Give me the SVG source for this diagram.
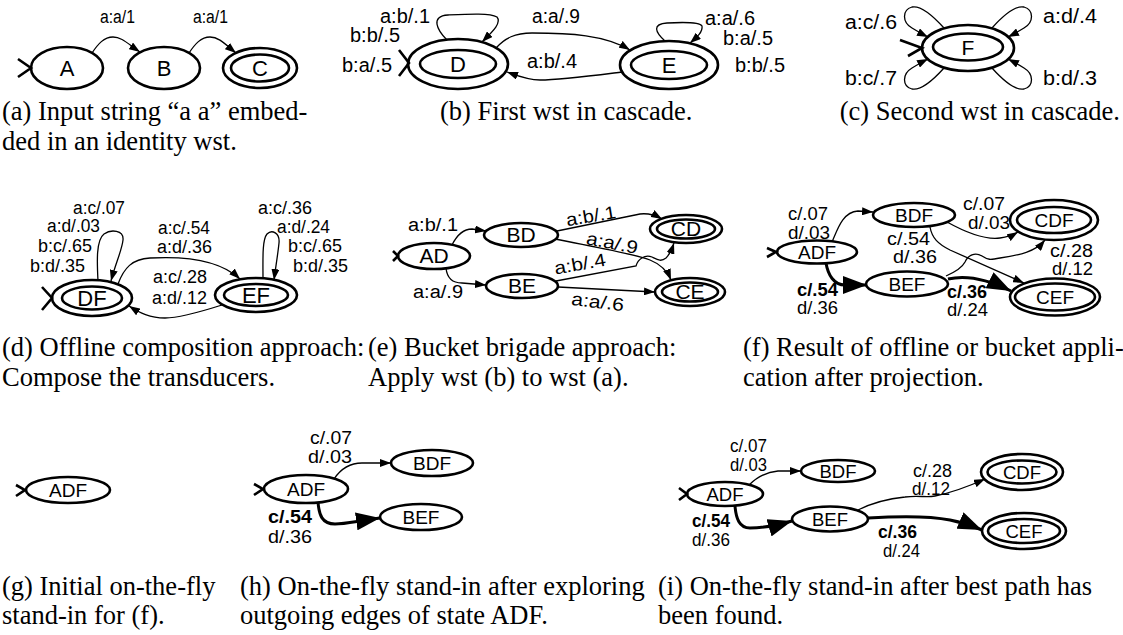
<svg xmlns="http://www.w3.org/2000/svg" width="1123" height="635" viewBox="0 0 1123 635">
<defs>
<style>
.n{fill:none;stroke:#000;stroke-width:2.6}
.s{fill:none;stroke:#000;stroke-width:2.6;stroke-linejoin:miter}
.c{fill:none;stroke:#000;stroke-width:1.3}
.k{fill:none;stroke:#000;stroke-width:3}
text{font-family:"Liberation Sans",Arial,Helvetica,sans-serif;fill:#000}
.nl{text-anchor:middle}
.cap{font-family:"Liberation Serif","Times New Roman",serif;font-size:26.5px}
.b{font-weight:bold}
</style>
<marker id="ah" viewBox="0 0 11 8" markerWidth="11" markerHeight="8" refX="11" refY="4" orient="auto" markerUnits="userSpaceOnUse"><path d="M0,0L11,4L0,8z"/></marker>
<marker id="ahb" viewBox="0 0 24 18" markerWidth="24" markerHeight="18" refX="24" refY="9" orient="auto" markerUnits="userSpaceOnUse"><path d="M0,0L24,9L0,18z"/></marker>
</defs>
<rect width="1123" height="635" fill="#fff"/>

<!-- (a) -->
<g id="a-A"><ellipse class="n" cx="67" cy="68" rx="36" ry="21"/><text class="nl" x="67" y="76" font-size="22">A</text></g>
<g id="a-B"><ellipse class="n" cx="164" cy="68" rx="36" ry="21"/><text class="nl" x="164" y="76" font-size="22">B</text></g>
<g id="a-C"><ellipse class="n" cx="260" cy="68" rx="37" ry="20"/><ellipse class="n" cx="260" cy="68" rx="29" ry="13.5"/><text class="nl" x="260" y="76" font-size="22">C</text></g>
<g id="a-connectors">
<polyline class="s" points="18,59 31,68 18,77"/>
<path class="c" d="M92,53 C98,44 104,37 113,37 C122,37 128,44 140,52" marker-end="url(#ah)"/>
<path class="c" d="M189,53 C195,44 201,37 210,37 C219,37 225,44 236,53" marker-end="url(#ah)"/>
<g font-size="18">
<text x="100" y="23" textLength="35" lengthAdjust="spacingAndGlyphs">a:a/1</text>
<text x="193" y="23" textLength="35" lengthAdjust="spacingAndGlyphs">a:a/1</text>
</g>
</g>

<!-- (b) -->
<g id="b-D"><ellipse class="n" cx="458" cy="64" rx="50" ry="25"/><ellipse class="n" cx="458" cy="64" rx="38" ry="14"/><text class="nl" x="458" y="72" font-size="22">D</text></g>
<g id="b-E"><ellipse class="n" cx="669" cy="65" rx="49" ry="24"/><ellipse class="n" cx="669" cy="65" rx="38" ry="14"/><text class="nl" x="669" y="73" font-size="22">E</text></g>
<g id="b-connectors">
<polyline class="s" points="399,50 409,63 399,76"/>
<path class="c" d="M447,40 C437,30 430,16 448,15 C470,14 490,13 497,17 C502,23 492,32 482,42" marker-end="url(#ah)"/>
<path class="c" d="M496,48 C505,38 515,33 532,33 C570,33 605,35 630,50" marker-end="url(#ah)"/>
<path class="c" d="M622,72 C590,76 560,80 540,80 C528,80 518,76 507,72" marker-end="url(#ah)"/>
<path class="c" d="M665,41 C655,32 652,24 667,23 C685,22 700,22 702,26 C703,32 697,37 690,43" marker-end="url(#ah)"/>
<g font-size="20">
<text x="380" y="23" textLength="50" lengthAdjust="spacingAndGlyphs">a:b/.1</text>
<text x="350" y="42" textLength="50" lengthAdjust="spacingAndGlyphs">b:b/.5</text>
<text x="342" y="72" textLength="50" lengthAdjust="spacingAndGlyphs">b:a/.5</text>
<text x="532" y="23" textLength="48" lengthAdjust="spacingAndGlyphs">a:a/.9</text>
<text x="527" y="68" textLength="50" lengthAdjust="spacingAndGlyphs">a:b/.4</text>
<text x="705" y="25" textLength="50" lengthAdjust="spacingAndGlyphs">a:a/.6</text>
<text x="723" y="45" textLength="50" lengthAdjust="spacingAndGlyphs">b:a/.5</text>
<text x="735" y="72" textLength="50" lengthAdjust="spacingAndGlyphs">b:b/.5</text>
</g>
</g>

<!-- (c) -->
<g id="c-F"><ellipse class="n" cx="968" cy="48" rx="46" ry="23"/><ellipse class="n" cx="968" cy="47" rx="35" ry="13.5"/><text class="nl" x="968" y="55" font-size="21">F</text></g>
<g id="c-connectors">
<polyline class="s" points="900,40 922,48 908,56"/>
<path class="c" d="M944,28 C935,18 922,5 912,7 C902,10 902,22 912,28 C917,31 922,34 928,37" marker-end="url(#ah)"/>
<path class="c" d="M992,28 C1001,18 1014,5 1024,7 C1034,10 1034,22 1024,28 C1019,31 1014,34 1008,37" marker-end="url(#ah)"/>
<path class="c" d="M944,68 C935,78 922,91 912,89 C902,86 902,74 912,68 C917,65 922,62 928,59" marker-end="url(#ah)"/>
<path class="c" d="M992,68 C1001,78 1014,91 1024,89 C1034,86 1034,74 1024,68 C1019,65 1014,62 1008,59" marker-end="url(#ah)"/>
<g font-size="20">
<text x="845" y="29" textLength="52" lengthAdjust="spacingAndGlyphs">a:c/.6</text>
<text x="1043" y="23" textLength="54" lengthAdjust="spacingAndGlyphs">a:d/.4</text>
<text x="845" y="85" textLength="52" lengthAdjust="spacingAndGlyphs">b:c/.7</text>
<text x="1043" y="85" textLength="54" lengthAdjust="spacingAndGlyphs">b:d/.3</text>
</g>
</g>

<!-- (d) -->
<g id="d-DF"><ellipse class="n" cx="92" cy="298" rx="40" ry="18"/><ellipse class="n" cx="92" cy="298" rx="30" ry="11.5"/><text class="nl" x="92" y="306" font-size="22">DF</text></g>
<g id="d-EF"><ellipse class="n" cx="256" cy="295" rx="41" ry="17"/><ellipse class="n" cx="256" cy="295" rx="32" ry="11"/><text class="nl" x="256" y="303" font-size="22">EF</text></g>
<g id="d-connectors">
<polyline class="s" points="42,287 52,298 42,310"/>
<path class="c" d="M98,281 C97,262 96,240 104,234 C111,229 124,230 123,240 C122,250 116,262 111,281" marker-end="url(#ah)"/>
<path class="c" d="M263,279 C263,260 262,240 267,234 C272,229 280,233 279,243 C278,253 276,265 274,280" marker-end="url(#ah)"/>
<path class="c" d="M118,284 C124,268 132,259 150,258 C185,256 220,260 240,279" marker-end="url(#ah)"/>
<path class="c" d="M222,305 C200,312 180,318 165,318 C150,318 140,313 129,306" marker-end="url(#ah)"/>
<g font-size="18">
<text x="73" y="214" textLength="52" lengthAdjust="spacingAndGlyphs">a:c/.07</text>
<text x="47" y="232" textLength="53" lengthAdjust="spacingAndGlyphs">a:d/.03</text>
<text x="38" y="252" textLength="54" lengthAdjust="spacingAndGlyphs">b:c/.65</text>
<text x="30" y="272" textLength="55" lengthAdjust="spacingAndGlyphs">b:d/.35</text>
<text x="158" y="234" textLength="52" lengthAdjust="spacingAndGlyphs">a:c/.54</text>
<text x="157" y="253" textLength="55" lengthAdjust="spacingAndGlyphs">a:d/.36</text>
<text x="153" y="283" textLength="54" lengthAdjust="spacingAndGlyphs">a:c/.28</text>
<text x="152" y="304" textLength="55" lengthAdjust="spacingAndGlyphs">a:d/.12</text>
<text x="258" y="214" textLength="54" lengthAdjust="spacingAndGlyphs">a:c/.36</text>
<text x="277" y="233" textLength="53" lengthAdjust="spacingAndGlyphs">a:d/.24</text>
<text x="288" y="252" textLength="54" lengthAdjust="spacingAndGlyphs">b:c/.65</text>
<text x="293" y="272" textLength="55" lengthAdjust="spacingAndGlyphs">b:d/.35</text>
</g>
</g>

<!-- (e) -->
<g id="e-AD"><ellipse class="n" cx="434" cy="256" rx="36" ry="13"/><text class="nl" x="434" y="263" font-size="21">AD</text></g>
<g id="e-BD"><ellipse class="n" cx="521" cy="235" rx="37" ry="12"/><text class="nl" x="521" y="242" font-size="21">BD</text></g>
<g id="e-BE"><ellipse class="n" cx="522" cy="286" rx="36" ry="12"/><text class="nl" x="522" y="293" font-size="21">BE</text></g>
<g id="e-CD"><ellipse class="n" cx="686" cy="229" rx="36" ry="14"/><ellipse class="n" cx="686" cy="229" rx="29" ry="9.5"/><text class="nl" x="686" y="236" font-size="21">CD</text></g>
<g id="e-CE"><ellipse class="n" cx="690" cy="292" rx="35" ry="14"/><ellipse class="n" cx="690" cy="292" rx="28" ry="9.5"/><text class="nl" x="690" y="299" font-size="21">CE</text></g>
<g id="e-connectors">
<polyline class="s" points="393,251 398,256 393,261"/>
<path class="c" d="M452,245 C457,235 463,229 472,229 L486,231" marker-end="url(#ah)"/>
<path class="c" d="M446,268 C447,278 452,283 462,283 L486,285" marker-end="url(#ah)"/>
<path class="c" d="M557,231 L640,214 C648,213 655,215 662,219" marker-end="url(#ah)"/>
<path class="c" d="M555,239 C600,248 635,254 650,260 C660,264 667,270 671,280" marker-end="url(#ah)"/>
<path class="c" d="M556,281 L636,266 C638,259 645,254 652,257 C658,260 661,262 666,258 C670,254 672,249 674,243" marker-end="url(#ah)"/>
<path class="c" d="M558,287 L655,292" marker-end="url(#ah)"/>
<g font-size="18">
<text x="408" y="231" textLength="50" lengthAdjust="spacingAndGlyphs">a:b/.1</text>
<text x="413" y="298" textLength="50" lengthAdjust="spacingAndGlyphs">a:a/.9</text>
<text transform="translate(592,222) rotate(-9.5)" text-anchor="middle" textLength="50" lengthAdjust="spacingAndGlyphs">a:b/.1</text>
<text transform="translate(611,249) rotate(11)" text-anchor="middle" textLength="52" lengthAdjust="spacingAndGlyphs">a:a/.9</text>
<text transform="translate(581,270) rotate(-10)" text-anchor="middle" textLength="52" lengthAdjust="spacingAndGlyphs">a:b/.4</text>
<text transform="translate(597,308) rotate(7)" text-anchor="middle" textLength="53" lengthAdjust="spacingAndGlyphs">a:a/.6</text>
</g>
</g>

<!-- (f) -->
<g id="f-ADF"><ellipse class="n" cx="817" cy="252" rx="40" ry="11.5"/><text class="nl" x="817" y="259" font-size="19">ADF</text></g>
<g id="f-BDF"><ellipse class="n" cx="914" cy="215" rx="41" ry="12"/><text class="nl" x="914" y="222" font-size="19">BDF</text></g>
<g id="f-BEF"><ellipse class="n" cx="907" cy="284" rx="41" ry="12.5"/><text class="nl" x="907" y="291" font-size="19">BEF</text></g>
<g id="f-CDF"><ellipse class="n" cx="1054" cy="220" rx="44" ry="20"/><ellipse class="n" cx="1054" cy="220" rx="37" ry="13"/><text class="nl" x="1054" y="227" font-size="19">CDF</text></g>
<g id="f-CEF"><ellipse class="n" cx="1055" cy="297" rx="45" ry="18.5"/><ellipse class="n" cx="1055" cy="297" rx="40" ry="13.5"/><text class="nl" x="1055" y="304" font-size="19">CEF</text></g>
<g id="f-connectors">
<polyline class="s" points="767,248 776,252 767,257"/>
<path class="c" d="M832,242 C838,228 843,212 858,211 L873,212" marker-end="url(#ah)"/>
<path class="k" d="M826,263 C828,275 834,285 845,285 L867,285" marker-end="url(#ahb)"/>
<path class="c" d="M947,222 C965,232 985,240 1000,238 C1008,237 1013,235 1018,232" marker-end="url(#ah)"/>
<path class="c" d="M930,227 C932,238 938,244 950,250 L1024,283" marker-end="url(#ah)"/>
<path class="c" d="M946,276 C955,272 962,268 965,262 C968,255 975,252 982,256 C988,260 990,260 1000,258 C1020,255 1035,252 1045,240" marker-end="url(#ah)"/>
<path class="k" d="M948,279 C965,275 985,278 1011,291" marker-end="url(#ahb)"/>
<g font-size="17.5">
<text x="788" y="220" textLength="40" lengthAdjust="spacingAndGlyphs">c/.07</text>
<text x="788" y="239" textLength="42" lengthAdjust="spacingAndGlyphs">d/.03</text>
<text x="963" y="210" textLength="42" lengthAdjust="spacingAndGlyphs">c/.07</text>
<text x="968" y="229" textLength="42" lengthAdjust="spacingAndGlyphs">d/.03</text>
<text x="887" y="245" textLength="43" lengthAdjust="spacingAndGlyphs">c/.54</text>
<text x="893" y="263" textLength="44" lengthAdjust="spacingAndGlyphs">d/.36</text>
<text x="1050" y="257" textLength="43" lengthAdjust="spacingAndGlyphs">c/.28</text>
<text x="1052" y="275" textLength="41" lengthAdjust="spacingAndGlyphs">d/.12</text>
<text class="b" x="797" y="296" textLength="41" lengthAdjust="spacingAndGlyphs">c/.54</text>
<text x="797" y="314" textLength="41" lengthAdjust="spacingAndGlyphs">d/.36</text>
<text class="b" x="947" y="298" textLength="40" lengthAdjust="spacingAndGlyphs">c/.36</text>
<text x="947" y="316" textLength="41" lengthAdjust="spacingAndGlyphs">d/.24</text>
</g>
</g>

<!-- (g) -->
<g id="g-ADF"><ellipse class="n" cx="68" cy="490" rx="42" ry="13"/><text class="nl" x="68" y="497" font-size="19">ADF</text></g>
<g id="g-connectors"><polyline class="s" points="16,485 25,490 16,496"/></g>

<!-- (h) -->
<g id="h-ADF"><ellipse class="n" cx="306" cy="489" rx="42" ry="14"/><text class="nl" x="306" y="496" font-size="19">ADF</text></g>
<g id="h-BDF"><ellipse class="n" cx="432" cy="463" rx="41" ry="13"/><text class="nl" x="432" y="470" font-size="19">BDF</text></g>
<g id="h-BEF"><ellipse class="n" cx="421" cy="517" rx="41" ry="13"/><text class="nl" x="421" y="524" font-size="19">BEF</text></g>
<g id="h-connectors">
<polyline class="s" points="254,484 263,489 254,495"/>
<path class="c" d="M334,479 C340,470 348,463 362,463 L391,463" marker-end="url(#ah)"/>
<path class="k" d="M318,502 C319,515 322,524 335,524 C345,524 352,522 380,518" marker-end="url(#ahb)"/>
<g font-size="19">
<text x="310" y="444" textLength="42" lengthAdjust="spacingAndGlyphs">c/.07</text>
<text x="308" y="463" textLength="44" lengthAdjust="spacingAndGlyphs">d/.03</text>
<text class="b" x="268" y="523" textLength="44" lengthAdjust="spacingAndGlyphs">c/.54</text>
<text x="268" y="543" textLength="44" lengthAdjust="spacingAndGlyphs">d/.36</text>
</g>
</g>

<!-- (i) -->
<g id="i-ADF"><ellipse class="n" cx="725" cy="494" rx="38" ry="12"/><text class="nl" x="725" y="501" font-size="18.5">ADF</text></g>
<g id="i-BDF"><ellipse class="n" cx="838" cy="471" rx="37" ry="11"/><text class="nl" x="838" y="478" font-size="18.5">BDF</text></g>
<g id="i-BEF"><ellipse class="n" cx="830" cy="519" rx="38" ry="12.5"/><text class="nl" x="830" y="526" font-size="18.5">BEF</text></g>
<g id="i-CDF"><ellipse class="n" cx="1022" cy="472" rx="41" ry="18"/><ellipse class="n" cx="1022" cy="472" rx="34.5" ry="11.5"/><text class="nl" x="1022" y="479" font-size="18.5">CDF</text></g>
<g id="i-CEF"><ellipse class="n" cx="1024" cy="531" rx="42" ry="18"/><ellipse class="n" cx="1024" cy="531" rx="36" ry="12"/><text class="nl" x="1024" y="538" font-size="18.5">CEF</text></g>
<g id="i-connectors">
<polyline class="s" points="679,488 687,494 679,500"/>
<path class="c" d="M749,485 C756,478 764,472 778,471 L801,471" marker-end="url(#ah)"/>
<path class="k" d="M735,506 C736,518 739,528 750,528 C765,528 775,526 792,521" marker-end="url(#ahb)"/>
<path class="c" d="M858,510 C870,504 885,499 905,497 C920,495 925,498 935,496 C950,493 965,488 985,479" marker-end="url(#ah)"/>
<path class="k" d="M868,518 C900,516 930,516 950,520 C965,523 975,527 982,530" marker-end="url(#ahb)"/>
<g font-size="17.5">
<text x="730" y="452" textLength="37" lengthAdjust="spacingAndGlyphs">c/.07</text>
<text x="730" y="471" textLength="37" lengthAdjust="spacingAndGlyphs">d/.03</text>
<text x="913" y="477" textLength="39" lengthAdjust="spacingAndGlyphs">c/.28</text>
<text x="912" y="495" textLength="38" lengthAdjust="spacingAndGlyphs">d/.12</text>
<text class="b" x="692" y="527" textLength="38" lengthAdjust="spacingAndGlyphs">c/.54</text>
<text x="692" y="546" textLength="38" lengthAdjust="spacingAndGlyphs">d/.36</text>
<text class="b" x="878" y="538" textLength="39" lengthAdjust="spacingAndGlyphs">c/.36</text>
<text x="883" y="557" textLength="37" lengthAdjust="spacingAndGlyphs">d/.24</text>
</g>
</g>

<!-- captions -->
<g id="captions">
<text class="cap" x="2" y="120">(a) Input string “a a” embed-</text>
<text class="cap" x="2" y="150">ded in an identity wst.</text>
<text class="cap" x="440" y="120">(b) First wst in cascade.</text>
<text class="cap" x="1120" y="120" text-anchor="end">(c) Second wst in cascade.</text>
<text class="cap" x="2" y="356">(d) Offline composition approach:</text>
<text class="cap" x="2" y="386">Compose the transducers.</text>
<text class="cap" x="368" y="356">(e) Bucket brigade approach:</text>
<text class="cap" x="368" y="386">Apply wst (b) to wst (a).</text>
<text class="cap" x="743" y="356">(f) Result of offline or bucket appli-</text>
<text class="cap" x="743" y="386">cation after projection.</text>
<text class="cap" x="2" y="595">(g) Initial on-the-fly</text>
<text class="cap" x="2" y="624">stand-in for (f).</text>
<text class="cap" x="240" y="595">(h) On-the-fly stand-in after exploring</text>
<text class="cap" x="240" y="624">outgoing edges of state ADF.</text>
<text class="cap" x="658" y="595">(i) On-the-fly stand-in after best path has</text>
<text class="cap" x="658" y="624">been found.</text>
</g>
</svg>
